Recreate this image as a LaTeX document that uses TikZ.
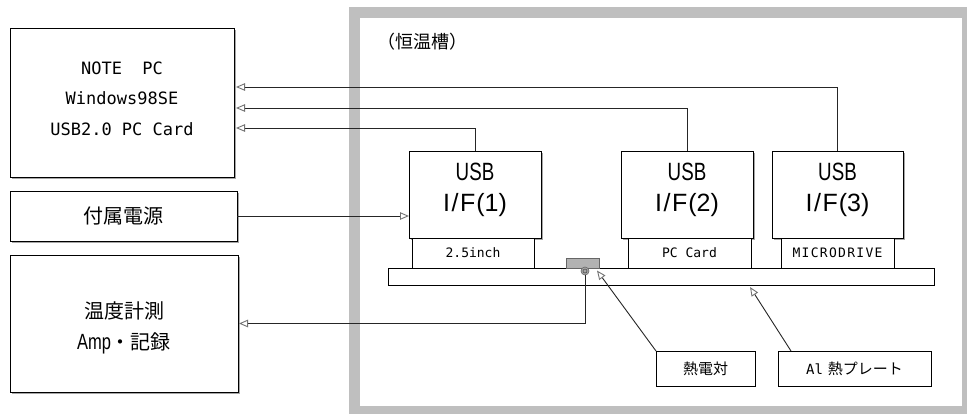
\documentclass[tikz,border=0pt]{standalone}
\usepackage{fontspec}
\setmainfont{Noto Sans CJK JP}
\newfontfamily\monofnt{DejaVu Sans Mono}
\newfontfamily\usbnarrow[FakeStretch=0.75]{Liberation Sans}
\newfontfamily\usbwide{Liberation Sans}
\usetikzlibrary{arrows.meta,shadows}
\begin{document}
\begin{tikzpicture}[x=1pt,y=-1pt,
  box/.style={draw=black, line width=0.8pt, fill=white, inner sep=0pt, outer sep=0pt,
    drop shadow={shadow xshift=1.5pt, shadow yshift=-1.5pt, fill=black!35, opacity=1}},
  subbox/.style={draw=black, line width=0.7pt, fill=white, inner sep=0pt, outer sep=0pt},
  arr/.style={draw=black!85, line width=0.9pt,
    -{Triangle[open, length=9pt, width=7.5pt, color=black!55, line width=0.9pt]}},
  txt/.style={inner sep=0pt, align=center},
  pcfont/.style={font=\monofnt\fontsize{17}{30.5}\selectfont},
  cjkfont/.style={font=\fontsize{20}{31}\selectfont},
  usbfont/.style={font=\fontsize{25}{31}\selectfont},
  subfont/.style={font=\monofnt\fontsize{13}{13}\selectfont},
  probefont/.style={font=\fontsize{15}{15}\selectfont}
]
\fill[white] (0,0) rectangle (967,413);
\useasboundingbox (0,0) rectangle (967,413);

% chamber
\node[draw=black!25, line width=11pt, minimum width=613pt, minimum height=399.5pt,
  inner sep=0pt, outer sep=0pt] (chamber) at (661,211.75) {};
\node[anchor=west, inner sep=0pt, font=\fontsize{18}{18}\selectfont] (chlabel) at (377,42) {（恒温槽）};

% left boxes
\node[box, minimum width=224pt, minimum height=149pt] (pc) at (122,102.5) {};
\node[txt, pcfont] (pctxt) at (122,98.5) {NOTE\ \ PC\\Windows98SE\\USB2.0 PC Card};

\node[box, minimum width=227pt, minimum height=50pt, cjkfont] (pwr) at (123.5,216) {付属電源};

\node[box, minimum width=228pt, minimum height=137pt] (temp) at (124,323.5) {};
\node[txt, cjkfont] (temptxt) at (124,327.5) {温度計測\\{\usbnarrow\fontsize{22}{31}\selectfont Amp}・記録};

% plate
\node[subbox, minimum width=546pt, minimum height=17pt] (plate) at (661,276.5) {};

% USB boxes
\node[box, minimum width=132pt, minimum height=87pt] (usb1) at (475,194.5) {};
\node[box, minimum width=132pt, minimum height=87pt] (usb2) at (687,194.5) {};
\node[box, minimum width=131pt, minimum height=87pt] (usb3) at (837.5,194.5) {};
\node[txt, usbfont] (usb1t) at (475,189.5) {{\usbnarrow USB}\\{\usbwide I\kern1.5pt/\kern1.5pt F\kern1pt(1)}};
\node[txt, usbfont] (usb2t) at (687,189.5) {{\usbnarrow USB}\\{\usbwide I\kern1.5pt/\kern1.5pt F\kern1pt(2)}};
\node[txt, usbfont] (usb3t) at (837.5,189.5) {{\usbnarrow USB}\\{\usbwide I\kern1.5pt/\kern1.5pt F\kern1pt(3)}};

\node[subbox, minimum width=122pt, minimum height=30pt, subfont] (sub1) at (473,253) {2.5inch};
\node[subbox, minimum width=123pt, minimum height=30pt, subfont] (sub2) at (689.5,253) {PC Card};
\node[subbox, minimum width=113pt, minimum height=30pt, subfont] (sub3) at (837.5,253)
  {\addfontfeature{LetterSpace=10}MICRODRIVE};

% sensor
\node[draw=black!60, fill=black!30, line width=0.6pt, minimum width=33pt, minimum height=10pt,
  inner sep=0pt, outer sep=0pt] (sensor) at (582.5,263) {};
\node[circle, draw=black!60, fill=black!35, line width=0.6pt, minimum size=8pt, inner sep=0pt,
  outer sep=0pt] (tc) at (585,271) {};
\node[circle, draw=black!75, line width=0.5pt, minimum size=4pt, inner sep=0pt] (tcin) at (585,271) {};

% probe label boxes
\node[subbox, minimum width=99pt, minimum height=35pt, probefont] (tcbox) at (705.5,368.5) {熱電対};
\node[subbox, minimum width=153pt, minimum height=35pt, probefont] (albox) at (854.5,368.5)
  {{\monofnt\fontsize{14}{14}\selectfont Al}\hspace{5pt}熱プレート};

\coordinate (tctip) at (597,270.5);
\coordinate (altip) at (750,287);

% connectors
\draw[arr, shorten >=2pt] (usb3.north) |- (pc.east |- 0,87);
\draw[arr, shorten >=2pt] (usb2.north) |- (pc.east |- 0,108);
\draw[arr, shorten >=2pt] (usb1.north) |- (pc.east |- 0,128);
\draw[arr] (pwr.east) -- (usb1.west |- pwr.east);
\draw[arr, shorten >=1pt] (tc.south) |- (temp.east);
\draw[arr] (tcbox.north west) -- (tctip);
\draw[arr] ([xshift=13pt]albox.north west) -- (altip);
\end{tikzpicture}
\end{document}
